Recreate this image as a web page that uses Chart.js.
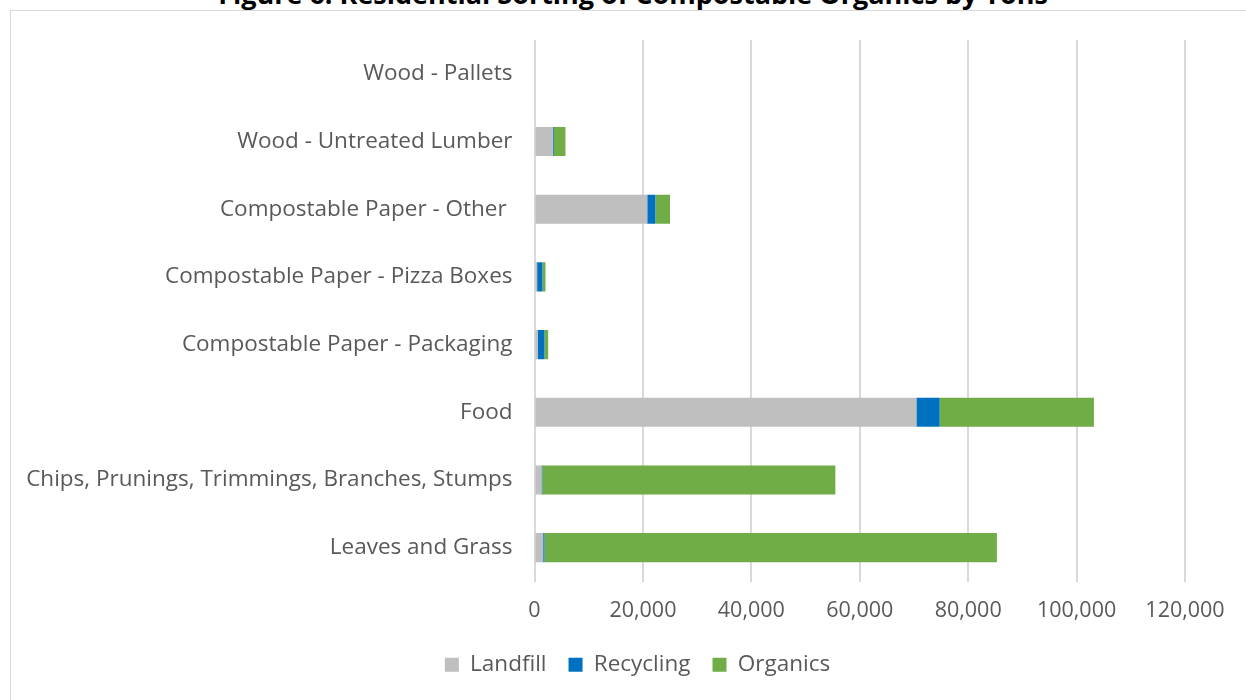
<!DOCTYPE html>
<html>
<head>
<meta charset="utf-8">
<script src="https://cdn.jsdelivr.net/npm/chart.js@4/dist/chart.umd.min.js"></script>
<style>
  html, body { margin: 0; padding: 0; background: #fff; overflow: hidden; }
  #frame { position: absolute; left: 10px; top: 10px; width: 1250px; height: 700px; border: 1px solid #d9d9d9; box-sizing: border-box; }
  #title { position: absolute; left: 10px; width: 1246px; top: -25px; line-height: normal; text-align: center; font-family: "Open Sans", sans-serif; font-weight: bold; font-size: 27px; color: #000; white-space: nowrap; }
  #wrap { position: absolute; left: 0; top: 0; width: 1246px; height: 700px; }
</style>
</head>
<body>
<div id="frame"></div>
<div id="title">Figure 6: Residential Sorting of Compostable Organics by Tons</div>
<div id="wrap"><canvas id="c"></canvas></div>
<script>
const categories = [
  "Wood - Pallets",
  "Wood - Untreated Lumber",
  "Compostable Paper - Other ",
  "Compostable Paper - Pizza Boxes",
  "Compostable Paper - Packaging",
  "Food",
  "Chips, Prunings, Trimmings, Branches, Stumps",
  "Leaves and Grass"
];
const landfill  = [0, 3380, 20800, 490, 610, 70450, 1290, 1600];
const recycling = [0, 180, 1500, 980, 1230, 4300, 150, 240];
const organics  = [0, 2150, 2700, 560, 680, 28450, 54060, 83460];
const xTicks = [0, 20000, 40000, 60000, 80000, 100000, 120000];

const FONT = "'Open Sans', sans-serif";
const TXT = "#595959";

const legendShift = {
  id: 'legendShift',
  afterLayout(chart) {
    const lg = chart.legend;
    if (lg) { lg.left += 45; lg.right += 45; }
  }
};

new Chart(document.getElementById('c'), {
  type: 'bar',
  data: {
    labels: categories,
    datasets: [
      { label: 'Landfill', data: landfill, backgroundColor: '#BFBFBF' },
      { label: 'Recycling', data: recycling, backgroundColor: '#0070C0' },
      { label: 'Organics', data: organics, backgroundColor: '#70AD47' }
    ]
  },
  plugins: [legendShift],
  options: {
    indexAxis: 'y',
    responsive: true,
    maintainAspectRatio: false,
    animation: false,
    datasets: { bar: { categoryPercentage: 1, barPercentage: 0.43 } },
    layout: { padding: { top: 40, right: 61, left: 0, bottom: 14 } },
    scales: {
      x: {
        stacked: true,
        min: 0, max: 120000,
        afterBuildTicks: (s) => { s.ticks = xTicks.map(v => ({ value: v })); },
        grid: { color: '#d9d9d9', lineWidth: 2, drawTicks: false },
        border: { display: false },
        ticks: { color: TXT, font: { family: FONT, size: 21.5 }, padding: 16,
                 callback: (v) => v.toLocaleString('en-US') },
        afterFit: (s) => { s.height = 50; }
      },
      y: {
        stacked: true,
        grid: { display: false, drawTicks: false },
        border: { display: false },
        ticks: { color: TXT, font: { family: FONT, size: 22.5 }, padding: 22 },
        afterFit: (s) => { s.width = 534.5; }
      }
    },
    plugins: {
      legend: {
        position: 'bottom',
        labels: { color: TXT, font: { family: FONT, size: 22.5 }, boxWidth: 14, boxHeight: 14, padding: 22 }
      },
      tooltip: { enabled: false }
    }
  }
});
</script>
</body>
</html>
